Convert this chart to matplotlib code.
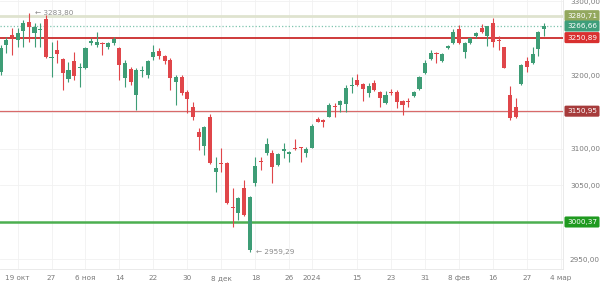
import matplotlib
matplotlib.use("Agg")
import matplotlib.pyplot as plt
import matplotlib.transforms as mtransforms
import numpy as np

# daily candles, index = trading day (19 окт 2023 is day 3)
opens = [3204.0, 3240.6, 3254.2, 3247.4, 3259.7, 3271.9, 3256.9, 3261.0, 3276.0, 3223.7,
         3233.8, 3221.6, 3194.4, 3218.9, 3209.4, 3209.4, 3243.4, 3240.6, 3243.4, 3237.9,
         3243.4, 3236.6, 3195.8, 3208.0, 3172.7, 3206.0, 3199.9, 3224.3, 3232.5, 3225.7,
         3220.3, 3190.4, 3197.2, 3176.8, 3156.4, 3122.4, 3103.4, 3142.8, 3068.1, 3081.0,
         3080.3, 3021.2, 3012.3, 3046.3, 2962.0, 3053.1, 3083.7, 3093.9, 3093.9, 3077.6,
         3096.6, 3092.5, 3100.7, 3101.4, 3093.9, 3100.7, 3140.1, 3138.7, 3142.8, 3158.4,
         3159.1, 3160.5, 3184.9, 3193.1, 3187.6, 3175.4, 3189.0, 3176.8, 3161.8, 3177.5,
         3176.8, 3164.5, 3165.2, 3171.3, 3180.8, 3202.6, 3221.6, 3229.8, 3218.9, 3236.6,
         3243.4, 3262.4, 3231.1, 3243.4, 3252.9, 3263.7, 3252.9, 3270.5, 3248.1, 3237.9,
         3172.7, 3156.4, 3187.6, 3218.9, 3216.2, 3235.2, 3262.4]
highs = [3240.6, 3251.5, 3263.7, 3263.7, 3274.6, 3283.8, 3270.5, 3270.5, 3281.4, 3244.7,
         3247.4, 3223.0, 3217.5, 3231.1, 3216.2, 3237.9, 3250.2, 3258.3, 3244.7, 3244.7,
         3251.5, 3237.9, 3220.3, 3210.7, 3209.4, 3212.1, 3220.3, 3240.6, 3236.6, 3227.1,
         3223.0, 3199.9, 3199.9, 3179.5, 3163.2, 3127.8, 3130.6, 3146.9, 3088.5, 3100.7,
         3081.6, 3046.3, 3034.1, 3057.2, 3035.4, 3088.5, 3088.5, 3114.3, 3098.0, 3093.9,
         3107.5, 3096.6, 3112.9, 3102.0, 3102.0, 3133.3, 3142.8, 3140.1, 3161.8, 3161.8,
         3165.9, 3186.3, 3197.2, 3201.2, 3189.0, 3189.0, 3193.1, 3178.1, 3178.1, 3180.8,
         3179.5, 3165.9, 3168.6, 3178.1, 3198.5, 3220.3, 3233.8, 3231.1, 3229.8, 3240.6,
         3262.4, 3267.8, 3244.7, 3251.5, 3258.3, 3269.2, 3266.5, 3277.3, 3252.9, 3237.9,
         3184.9, 3168.6, 3214.8, 3224.3, 3237.9, 3259.7, 3270.5]
lows = [3199.9, 3229.8, 3227.1, 3237.9, 3237.9, 3244.7, 3237.9, 3237.9, 3223.0, 3197.2,
        3216.2, 3179.5, 3190.4, 3193.1, 3183.6, 3208.0, 3240.6, 3237.9, 3227.1, 3235.2,
        3240.6, 3193.1, 3183.6, 3186.3, 3152.3, 3197.2, 3195.8, 3220.3, 3221.6, 3214.8,
        3179.5, 3159.1, 3172.7, 3148.2, 3138.7, 3098.0, 3091.2, 3078.9, 3040.9, 3068.1,
        3024.6, 2993.3, 3002.8, 3008.3, 2959.29, 3049.0, 3070.8, 3091.2, 3053.1, 3076.2,
        3087.1, 3081.6, 3098.0, 3081.6, 3088.5, 3100.7, 3136.0, 3129.2, 3142.8, 3142.8,
        3149.6, 3149.6, 3175.4, 3184.9, 3164.5, 3170.0, 3178.1, 3156.4, 3160.5, 3172.7,
        3155.0, 3145.5, 3156.4, 3170.0, 3179.5, 3201.2, 3220.3, 3216.2, 3217.5, 3235.2,
        3242.0, 3242.0, 3223.0, 3242.0, 3250.2, 3256.9, 3239.3, 3237.9, 3233.8, 3209.4,
        3138.7, 3141.4, 3186.3, 3204.0, 3214.8, 3225.7, 3252.9]
closes = [3236.6, 3247.4, 3251.5, 3256.9, 3270.5, 3265.1, 3265.1, 3261.5, 3224.3, 3225.0,
          3228.4, 3202.6, 3206.7, 3198.5, 3210.7, 3236.6, 3246.1, 3244.7, 3242.0, 3243.4,
          3248.8, 3213.5, 3216.2, 3190.4, 3206.7, 3206.7, 3218.9, 3231.1, 3225.7, 3218.9,
          3195.8, 3197.2, 3175.4, 3167.3, 3142.8, 3115.6, 3129.2, 3080.3, 3073.5, 3079.6,
          3025.9, 3019.8, 3032.7, 3009.6, 3034.1, 3076.2, 3082.3, 3106.1, 3074.9, 3092.5,
          3099.3, 3095.2, 3099.3, 3100.7, 3099.3, 3130.6, 3136.0, 3136.0, 3159.1, 3157.1,
          3164.5, 3182.2, 3186.3, 3186.3, 3180.8, 3184.9, 3179.5, 3168.6, 3172.7, 3176.1,
          3163.2, 3159.1, 3163.9, 3176.8, 3197.2, 3216.2, 3229.8, 3228.4, 3228.4, 3239.3,
          3258.3, 3243.4, 3243.4, 3250.2, 3256.9, 3258.3, 3266.5, 3244.7, 3246.8, 3209.4,
          3141.4, 3142.8, 3213.5, 3210.7, 3228.4, 3258.3, 3266.66]

tick_pos = [3, 9, 15, 21, 27, 33, 39, 45, 51, 55, 63, 69, 75, 81, 87, 93, 99]
tick_labels = ["19 окт", "27", "6 ноя", "14", "22", "30", "8 дек", "18", "26", "2024",
               "15", "23", "31", "8 фев", "16", "27", "4 мар"]
y_ticks = [2950, 3000, 3050, 3100, 3150, 3200, 3250, 3300]
# scale labels covered by price tags in the reference
y_hidden = [3000, 3150, 3250]

level_values = [3280.71, 3266.66, 3250.89, 3150.95, 3000.37]
level_line_colors = ["#dfe3cf", "#7fc4ae", "#cf3a3a", "#d86a6a", "#4caf50"]
level_box_colors = ["#93a85e", "#3e9e7a", "#d8302f", "#a63b3b", "#1f9a20"]
level_styles = ["-", ":", "-", "-", "-"]
level_widths = [2.0, 0.9, 1.4, 0.9, 1.8]

max_price, min_price = 3283.80, 2959.29
max_idx, min_idx = 5, 44

GREEN = "#3e9d76"
RED = "#e0464a"


def fmt(v):
    return f"{v:.2f}".replace(".", ",")


fig = plt.figure(figsize=(6, 2.89), dpi=100)
ax = fig.add_axes([0, 20 / 289, 563 / 600, 269 / 289])

x = np.arange(len(opens))
o, h, l, c = map(np.array, (opens, highs, lows, closes))
up = c >= o
cols = np.where(up, GREEN, RED)

ax.vlines(x, l, h, colors=cols, linewidth=0.8, zorder=3)
body_lo = np.minimum(o, c)
body_h = np.maximum(np.abs(c - o), 1.0)
ax.bar(x, body_h, bottom=body_lo, width=0.72, color=cols, linewidth=0, zorder=4)

for v, lc, ls, lw in zip(level_values, level_line_colors, level_styles, level_widths):
    ax.axhline(v, color=lc, linestyle=ls, linewidth=lw, zorder=2)

ax.set_xlim(-0.1, 99.35)
ax.set_ylim(2936.5, 3302)
ax.set_xticks(tick_pos)
ax.set_xticklabels(tick_labels, va="baseline")
ax.set_yticks(y_ticks)
ax.set_yticklabels(["" if v in y_hidden else fmt(v) for v in y_ticks])
ax.yaxis.tick_right()
ax.tick_params(axis="both", length=0, labelsize=5.2, colors="#7a7a7a")
ax.tick_params(axis="y", pad=5)
ax.tick_params(axis="x", pad=7.8)
ax.grid(True, color="#f1f1f1", linewidth=0.6, zorder=0)
ax.set_axisbelow(True)
for side in ("top", "left"):
    ax.spines[side].set_visible(False)
for side in ("bottom", "right"):
    ax.spines[side].set_color("#e6e6e6")
    ax.spines[side].set_linewidth(0.6)

# price tags on the right scale
trans = mtransforms.blended_transform_factory(fig.transFigure, ax.transData)
for v, bc in zip(level_values, level_box_colors):
    fig.text(567 / 600, v, fmt(v), transform=trans, ha="left", va="center",
             fontsize=5.2, color="white", zorder=10,
             bbox=dict(boxstyle="round,pad=0.35,rounding_size=0.2", fc=bc, ec="none"))

ax.annotate("← " + fmt(max_price), xy=(max_idx + 0.3, max_price), xytext=(3, 0),
            textcoords="offset points", ha="left", va="center", fontsize=5.2, color="#8a8a8a")
ax.annotate("← " + fmt(min_price), xy=(min_idx + 0.3, min_price), xytext=(3, 0),
            textcoords="offset points", ha="left", va="center", fontsize=5.2, color="#8a8a8a")

fig.savefig("out.png", dpi=100, facecolor="white")
